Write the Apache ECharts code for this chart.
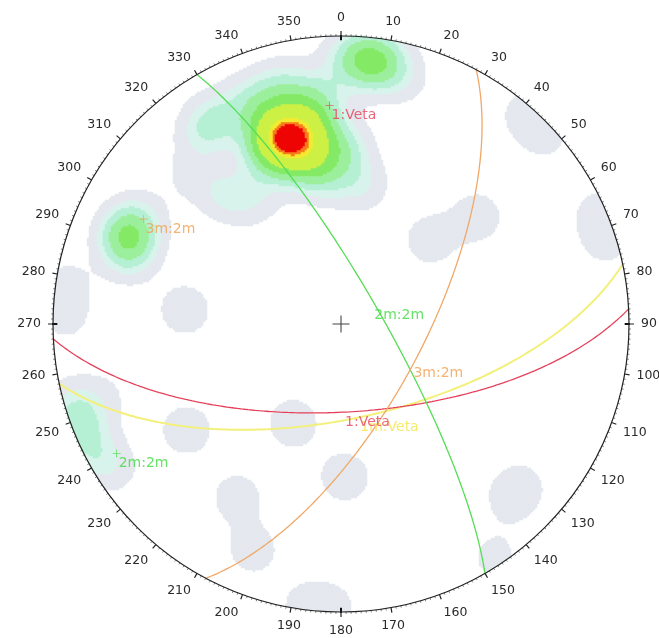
<!DOCTYPE html>
<html><head><meta charset="utf-8">
<script src="https://cdn.jsdelivr.net/npm/echarts@6/dist/echarts.min.js"></script>
<style>html,body{margin:0;padding:0;background:#fff}#c{width:659px;height:638px}</style>
</head><body><div id="c"></div>
<script>
// ---- Planes (dip direction / dip, degrees) ----
const planeNames  = ['1:Veta', '2m:2m', '3m:2m', '1m:Veta'];
const planeDipDir = [177, 60, 118, 168];
const planeDip    = [65, 79, 66.6, 63];
const planeShowPole = [true, true, true, false];

// ---- Pole measurements (trend, plunge, count) used for the density contours ----
const poleTrend  = [344.7,340.6,351.2,348.9,337.9,346.0,337.9,354.2,0.6,8.6,328.3,323.3,318.0,314.6,325.3,353.0,
                    4.6,8.9,14.7,0.9,
                    292.7,287.6,298.5,
                    248.9,242.0,254.3,237.1,253.3,
                    278.1,271.2,275.1,235.5,205.9,178.5,211.0,201.3,187.3,181.6,131.7,136.2,146.7,41.1,47.2,66.5,72.8,46.7,51.8];
const polePlunge = [33.5,28.6,30.4,40.3,36.4,16.6,17.2,21.5,38.8,49.6,17.9,19.2,39.6,27.2,46.5,47.0,
                    8.9,8.7,13.5,7.3,
                    20.9,24.1,21.7,
                    3.2,3.6,2.6,7.3,15.5,
                    4.0,5.0,44.8,35.3,58.6,45.8,30.6,16.9,1.5,1.5,17.0,16.4,3.1,3.1,3.9,3.0,4.1,55.0,39.7];
const poleCount  = [5,2.2,2.2,2.2,2.0,1.4,1.2,1.3,1.6,1.0,1.4,0.7,1.0,0.6,0.8,1.2,
                    2.0,2.0,0.6,0.6,
                    2.8,0.95,0.6,
                    1.5,1.0,0.7,0.6,0.5,
                    0.7,0.65,0.95,0.95,0.95,0.95,0.85,0.85,0.7,0.7,0.6,0.6,0.7,0.7,0.7,0.7,0.7,0.9,0.9];

// ---- Contour levels ----
const densityLevels = [0.5, 1.1, 1.6, 2.3, 3.2, 4.4, 6.9, 7.6, 8.2];

// ---- Azimuth tick labels ----
const azimuthLabels = [0,10,20,30,40,50,60,70,80,90,100,110,120,130,140,150,160,170,180,190,200,210,220,230,240,250,260,270,280,290,300,310,320,330,340,350];
const cardinalAngles = [0, 90, 180, 270];

// ---------------- styles ----------------
const planeColors = ['#e5405a', '#55dd55', '#f0a868', '#f3f07a'];
const planeWidths = [1.3, 1.3, 1.3, 2];
const labelColors = ['#e8405a', '#3fdc3f', '#f0a050', '#f2e640'];
const levelColors = ['#e4e8ef','#d8f3ec','#b6f0d4','#9cef9c','#84ea66','#ccf044','#f4ea30','#f87c1c','#ee0606'];
const FONT = 'DejaVu Sans';

// ---------------- projection (equal-area, lower hemisphere) ----------------
const D2R = Math.PI / 180;
function proj(trend, plunge) {
  const z = Math.sin(plunge * D2R), h = Math.cos(plunge * D2R);
  const k = 1 / Math.sqrt(1 + z);
  return [h * Math.sin(trend * D2R) * k, h * Math.cos(trend * D2R) * k];
}
function greatCircle(dd, dip) {
  const a = (dd - 90) * D2R, d = dd * D2R, p = dip * D2R;
  const s = [Math.sin(a), Math.cos(a), 0];
  const v = [Math.cos(p) * Math.sin(d), Math.cos(p) * Math.cos(d), Math.sin(p)];
  const pts = [];
  for (let t = 0; t <= 180; t += 1) {
    const r = t * D2R, c = Math.cos(r), sn = Math.sin(r);
    const e = c * s[0] + sn * v[0], n = c * s[1] + sn * v[1], z = c * s[2] + sn * v[2];
    const k = 1 / Math.sqrt(1 + Math.max(0, z));
    pts.push([e * k, n * k]);
  }
  return pts;
}

// ---------------- density grid ----------------
const N = 288;
const sigma = 0.07;
const P = poleTrend.map((t, i) => proj(t, polePlunge[i]));
const heat = [];
for (let i = 0; i < N; i++) {
  const x = -1 + (i + 0.5) * 2 / N;
  for (let j = 0; j < N; j++) {
    const y = -1 + (j + 0.5) * 2 / N;
    if (x * x + y * y > 1) continue;
    let f = 0;
    for (let k = 0; k < P.length; k++) {
      const dx = x - P[k][0], dy = y - P[k][1];
      f += poleCount[k] * Math.exp(-(dx * dx + dy * dy) / (2 * sigma * sigma));
    }
    let lv = 0;
    for (let q = 0; q < densityLevels.length; q++) if (f >= densityLevels[q]) lv = q + 1;
    if (lv > 0) heat.push([i, j, lv]);
  }
}
const cats = Array.from({length: N}, (_, i) => i);

// ---------------- series ----------------
const series = [];
series.push({
  type: 'heatmap', xAxisIndex: 1, yAxisIndex: 1, data: heat, progressive: 0,
  itemStyle: {borderWidth: 0}, emphasis: {disabled: true}, z: 1
});
planeNames.forEach((nm, i) => {
  series.push({
    type: 'line', xAxisIndex: 0, yAxisIndex: 0, data: greatCircle(planeDipDir[i], planeDip[i]),
    showSymbol: false, symbol: 'none', lineStyle: {color: planeColors[i], width: planeWidths[i]}, z: 3 + (i === 3 ? -1 : 0)
  });
});
// plane labels at the dip point of each great circle (yellow first so red sits on top)
[3, 0, 1, 2].forEach(i => {
  series.push({
    type: 'scatter', xAxisIndex: 0, yAxisIndex: 0, symbolSize: 1, itemStyle: {color: 'rgba(0,0,0,0)'},
    data: [{value: proj(planeDipDir[i], planeDip[i]), name: planeNames[i]}],
    label: {show: true, formatter: '{b}', position: [0, 4], color: labelColors[i], fontSize: 14, fontFamily: FONT},
    z: 6
  });
});
// pole markers
const plusPath = 'path://M4.5,0h1v4.5h4.5v1h-4.5v4.5h-1v-4.5h-4.5v-1h4.5z';
planeNames.forEach((nm, i) => {
  if (!planeShowPole[i]) return;
  series.push({
    type: 'scatter', xAxisIndex: 0, yAxisIndex: 0, symbol: plusPath, symbolSize: 8,
    itemStyle: {color: labelColors[i]},
    data: [{value: proj((planeDipDir[i] + 180) % 360, 90 - planeDip[i]), name: nm}],
    label: {show: true, formatter: '{b}', position: [6, 7], color: labelColors[i], fontSize: 14, fontFamily: FONT},
    z: 7
  });
});
// centre cross
series.push({
  type: 'scatter', xAxisIndex: 0, yAxisIndex: 0, symbol: 'path://M7.5,0h1v7.5h7.5v1h-7.5v7.5h-1v-7.5h-7.5v-1h7.5z',
  symbolSize: 17, itemStyle: {color: '#111'}, data: [[0, 0]], z: 8
});
// cardinal ticks
cardinalAngles.forEach(a => {
  const s = Math.sin(a * D2R), c = Math.cos(a * D2R);
  series.push({
    type: 'line', xAxisIndex: 0, yAxisIndex: 0, data: [[s * 0.985, c * 0.985], [s * 1.035, c * 1.035]],
    showSymbol: false, symbol: 'none', lineStyle: {color: '#111', width: 2}, z: 9
  });
});

const chart = echarts.init(document.getElementById('c'), null, {renderer: 'canvas'});
chart.setOption({
  animation: false,
  backgroundColor: '#fff',
  grid: [
    {left: 53, top: 36, width: 576, height: 576},
    {left: 53, top: 36, width: 576, height: 576}
  ],
  xAxis: [
    {type: 'value', min: -1, max: 1, show: false, gridIndex: 0},
    {type: 'category', data: cats, show: false, gridIndex: 1}
  ],
  yAxis: [
    {type: 'value', min: -1, max: 1, show: false, gridIndex: 0},
    {type: 'category', data: cats, show: false, gridIndex: 1}
  ],
  polar: {center: [341, 324], radius: 288},
  angleAxis: {
    type: 'value', min: 0, max: 360, interval: 10, startAngle: 90, clockwise: true, z: 10,
    axisLine: {lineStyle: {color: '#222', width: 1.2}},
    axisTick: {show: true, length: 5, lineStyle: {color: '#222', width: 1.2}},
    minorTick: {show: true, splitNumber: 10, length: 2, lineStyle: {color: '#666', width: 0.8}},
    splitLine: {show: false},
    axisLabel: {margin: 12, color: '#2a2a2a', fontSize: 12.5, fontFamily: FONT,
      formatter: v => (azimuthLabels.indexOf(v) >= 0 ? String(v) : '')}
  },
  radiusAxis: {type: 'value', min: 0, max: 1, show: false},
  visualMap: {
    type: 'piecewise', show: false, seriesIndex: 0, dimension: 2,
    pieces: levelColors.map((c, k) => ({value: k + 1, color: c}))
  },
  series: series
});
</script>
</body></html>
